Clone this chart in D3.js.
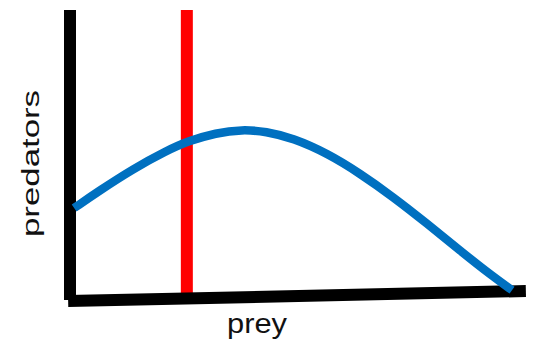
<!DOCTYPE html>
<html>
<head>
<meta charset="utf-8">
<script src="https://cdn.jsdelivr.net/npm/d3@7"></script>
<style>
  html, body { margin: 0; padding: 0; background: #fff; }
  svg { display: block; }
</style>
</head>
<body>
<svg id="chart" width="535" height="344"></svg>
<script>
// Predator abundance as a function of prey abundance (arbitrary units, 0-100)
const prey      = [0.9, 6.3, 13.7, 20.9, 25.7, 31.7, 37.4, 42.6, 48.5, 55.9, 63.0, 70.2, 77.6, 84.8, 92.0, 96.1];
const predators = [31.7, 37.6, 45.2, 51.4, 54.8, 57.6, 58.8, 58.1, 55.8, 50.6, 43.7, 35.6, 26.4, 17.0, 8.0, 3.4];

// Prey level marked by the vertical reference line
const preyMarker = [25.4];

const axisLabels = { x: "prey", y: "predators" };

const svg = d3.select("#chart");

const x = d3.scaleLinear().domain([0, 100]).range([70, 530]);
const y = d3.scaleLinear().domain([0, 100]).range([300, 10]);

// Vertical marker line (drawn beneath the axes)
svg.selectAll("line.marker")
  .data(preyMarker)
  .join("line")
  .attr("class", "marker")
  .attr("x1", d => x(d)).attr("x2", d => x(d))
  .attr("y1", y(0)).attr("y2", y(100))
  .attr("stroke", "#ff0000")
  .attr("stroke-width", 12);

// Axes: thick black bars, the horizontal one tipped up slightly toward the right
const xEnd = x(99.1);
svg.append("line")
  .attr("x1", x(-0.4)).attr("y1", y(0) + 1)
  .attr("x2", xEnd).attr("y2", y(0) - 9)
  .attr("stroke", "#000")
  .attr("stroke-width", 12);

svg.append("line")
  .attr("x1", x(0)).attr("x2", x(0))
  .attr("y1", y(100)).attr("y2", y(0))
  .attr("stroke", "#000")
  .attr("stroke-width", 12);

// Predator curve
const line = d3.line()
  .x((d, i) => x(prey[i]))
  .y(d => y(d))
  .curve(d3.curveBasis);

svg.append("path")
  .datum(predators)
  .attr("d", line)
  .attr("fill", "none")
  .attr("stroke", "#0070c0")
  .attr("stroke-width", 8.5)
  .attr("stroke-linecap", "butt");

// Axis titles
svg.append("text")
  .attr("x", 257).attr("y", 333)
  .attr("text-anchor", "middle")
  .attr("font-family", "'Liberation Sans', Arial, sans-serif")
  .attr("font-size", 28)
  .attr("textLength", 60)
  .attr("lengthAdjust", "spacingAndGlyphs")
  .attr("fill", "#111")
  .text(axisLabels.x);

svg.append("text")
  .attr("transform", "translate(39,163.5) rotate(-90)")
  .attr("text-anchor", "middle")
  .attr("font-family", "'Liberation Sans', Arial, sans-serif")
  .attr("font-size", 23)
  .attr("textLength", 147)
  .attr("lengthAdjust", "spacingAndGlyphs")
  .attr("fill", "#111")
  .text(axisLabels.y);
</script>
</body>
</html>
